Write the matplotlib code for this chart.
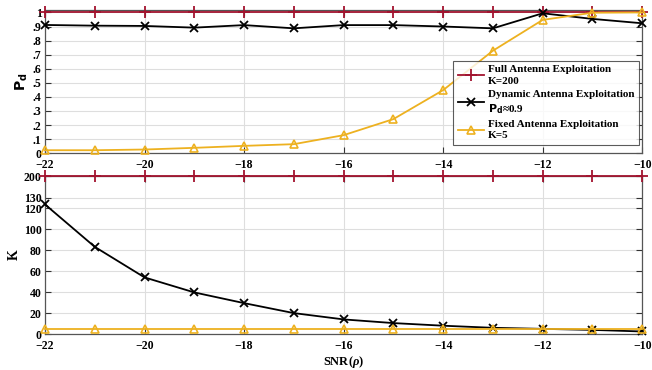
import numpy as np
import matplotlib
matplotlib.use("Agg")
import matplotlib.pyplot as plt

plt.rcParams["font.family"] = ["Liberation Serif", "DejaVu Serif"]
plt.rcParams["font.weight"] = "bold"
plt.rcParams["axes.labelweight"] = "bold"
plt.rcParams["mathtext.fontset"] = "custom"
plt.rcParams["mathtext.rm"] = "Liberation Serif:bold"
plt.rcParams["mathtext.it"] = "Liberation Serif:italic:bold"

snr = [-22, -21, -20, -19, -18, -17, -16, -15, -14, -13, -12, -11, -10]

pd_full = [1.0] * 13
pd_dynamic = [0.911, 0.906, 0.904, 0.892, 0.91, 0.887, 0.91, 0.91, 0.90, 0.887, 0.994, 0.954, 0.923]
pd_fixed = [0.021, 0.021, 0.026, 0.038, 0.052, 0.064, 0.128, 0.242, 0.448, 0.728, 0.947, 0.998, 1.0]

k_full = [200] * 13
k_dynamic = [123.5, 83.1, 54, 39.7, 29.5, 20, 14, 10.5, 8, 6, 5, 4, 2.5]
k_fixed = [5] * 13

pd_ticks = [0, .1, .2, .3, .4, .5, .6, .7, .8, .9, 1]
pd_ticklabels = ["0", ".1", ".2", ".3", ".4", ".5", ".6", ".7", ".8", ".9", "1"]
k_ticks = [0, 20, 40, 60, 80, 100, 120, 130, 200]
x_ticks = [-22, -20, -18, -16, -14, -12, -10]

RED = "#A2142F"
YEL = "#EDB120"

# broken K axis: above 130 is squeezed
BRK, SQ = 130.0, 0.292
def fwd(y):
    y = np.asarray(y, dtype=float)
    return np.where(y <= BRK, y, BRK + (y - BRK) * SQ)
def inv(z):
    z = np.asarray(z, dtype=float)
    return np.where(z <= BRK, z, BRK + (z - BRK) / SQ)

fig = plt.figure(figsize=(6.52, 3.7), dpi=100)
ax1 = fig.add_axes([0.069, 0.586, 0.916, 0.388])
ax2 = fig.add_axes([0.069, 0.097, 0.916, 0.427])

def style(ax):
    ax.grid(True, color="#dedede", lw=0.8)
    ax.set_axisbelow(True)
    ax.tick_params(direction="in", length=4, width=0.8, labelsize=8.5,
                   top=True, right=True, color="#333333")
    ax.tick_params(axis="x", pad=4.5)
    ax.tick_params(axis="y", pad=2.5)
    for s in ax.spines.values():
        s.set_color("#555555")
        s.set_linewidth(0.9)
    ax.set_xlim(-22, -10)
    ax.set_xticks(x_ticks)
    for lb in ax.get_xticklabels() + ax.get_yticklabels():
        lb.set_fontweight("bold")

kw_full = dict(color=RED, marker="+", ms=9, mew=1.3, lw=1.3, clip_on=False, zorder=3)
kw_dyn = dict(color="black", marker="x", ms=6, mew=1.3, lw=1.3, clip_on=False, zorder=4)
kw_fix = dict(color=YEL, marker="^", ms=6, mew=1.2, lw=1.3, mfc="none", clip_on=False, zorder=5)

ax1.plot(snr, pd_full, label="Full Antenna Exploitation\nK=200", **kw_full)
ax1.plot(snr, pd_dynamic, label="Dynamic Antenna Exploitation\n$\\mathbf{P_d}$\u22480.9", **kw_dyn)
ax1.plot(snr, pd_fixed, label="Fixed Antenna Exploitation\nK=5", **kw_fix)
ax1.set_ylim(0, 1.02)
ax1.set_yticks(pd_ticks)
ax1.set_yticklabels(pd_ticklabels)
style(ax1)
ax1.set_ylabel("$\\mathbf{P_d}$", fontsize=10, labelpad=2)
leg = ax1.legend(loc="lower right", fontsize=8, frameon=True, fancybox=False,
                 edgecolor="#333333", handlelength=2.4, handletextpad=0.35,
                 borderpad=0.4, labelspacing=0.35, bbox_to_anchor=(1.004, 0.02))
leg.get_frame().set_linewidth(0.8)
for t in leg.get_texts():
    t.set_fontweight("bold")
    t.set_linespacing(1.35)

ax2.plot(snr, k_full, **kw_full)
ax2.plot(snr, k_dynamic, **kw_dyn)
ax2.plot(snr, k_fixed, **kw_fix)
ax2.set_yscale("function", functions=(fwd, inv))
ax2.set_ylim(0, 200)
ax2.set_yticks(k_ticks)
ax2.set_yticklabels([str(t) for t in k_ticks])
ax2.yaxis.set_minor_locator(matplotlib.ticker.NullLocator())
style(ax2)
ax2.set_ylabel("K", fontsize=10, labelpad=2, fontweight="bold")
ax2.set_xlabel("SNR($\\rho$)", fontsize=9, labelpad=1, fontweight="bold")

fig.savefig("out.png", dpi=100)
